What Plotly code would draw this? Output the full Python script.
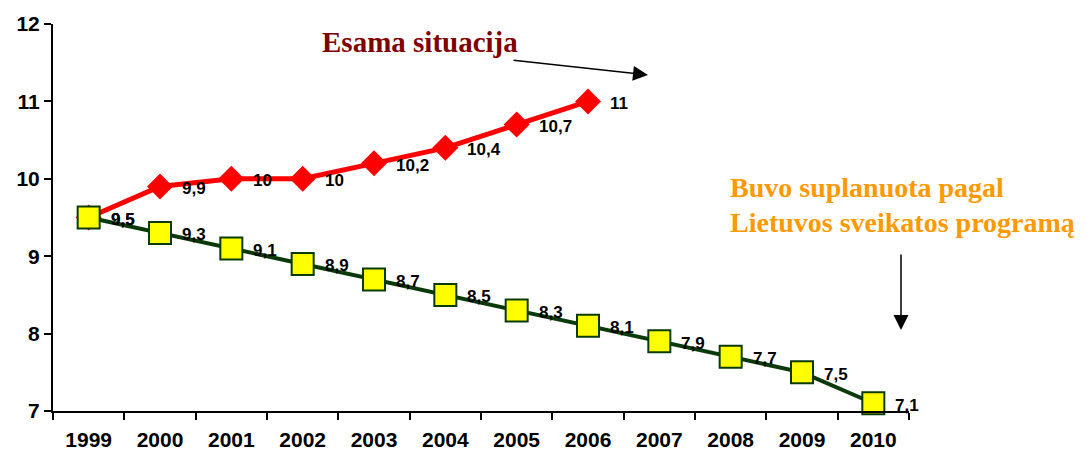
import plotly.graph_objects as go

years = ["1999", "2000", "2001", "2002", "2003", "2004", "2005", "2006", "2007", "2008", "2009", "2010"]
actual_years = ["1999", "2000", "2001", "2002", "2003", "2004", "2005", "2006"]
actual = [9.5, 9.9, 10, 10, 10.2, 10.4, 10.7, 11]
planned = [9.5, 9.3, 9.1, 8.9, 8.7, 8.5, 8.3, 8.1, 7.9, 7.7, 7.5, 7.1]
y_ticks = [7, 8, 9, 10, 11, 12]

def fmt(v):
    return ("%g" % v).replace(".", ",")

FONT = "Arial, Liberation Sans"
SERIF = "Liberation Serif, Times New Roman"

fig = go.Figure()
fig.add_trace(go.Scatter(
    x=actual_years, y=actual, mode="lines+markers",
    line=dict(color="#FF0000", width=5),
    marker=dict(symbol="diamond", size=20, color="#FF0000", line=dict(width=0)),
    cliponaxis=False, showlegend=False,
))
fig.add_trace(go.Scatter(
    x=years, y=planned, mode="lines+markers",
    line=dict(color="#0A3A0A", width=4),
    marker=dict(symbol="square", size=22, color="#FFFF00", line=dict(width=2, color="#0A3A0A")),
    cliponaxis=False, showlegend=False,
))

for xs, ys in ((actual_years, actual), (years, planned)):
    for xv, yv in zip(xs, ys):
        fig.add_annotation(
            x=years.index(xv), y=yv, xref="x", yref="y", text="<b>" + fmt(yv) + "</b>",
            showarrow=False, xanchor="left", yanchor="middle", xshift=20, yshift=-2,
            font=dict(family=FONT, size=17, color="black"),
        )

fig.update_layout(
    width=1083, height=450,
    margin=dict(l=45, r=182, t=16, b=47, autoexpand=False),
    plot_bgcolor="white", paper_bgcolor="white",
    font=dict(family=FONT, color="black"),
    xaxis=dict(
        type="category", range=[-0.5, 11.5], tickson="boundaries",
        ticks="outside", ticklen=7, tickwidth=2, tickcolor="black",
        showline=True, linewidth=2, linecolor="black", showgrid=False,
        tickfont=dict(size=21, family=FONT, color="black", weight="bold"),
        ticklabelstandoff=9,
    ),
    yaxis=dict(
        range=[7, 12], tickvals=y_ticks, ticktext=[str(v) for v in y_ticks],
        ticks="outside", ticklen=7, tickwidth=2, tickcolor="black",
        showline=True, linewidth=2, linecolor="black", showgrid=False, zeroline=False,
        tickfont=dict(size=21, family=FONT, color="black", weight="bold"),
    ),
)

fig.add_annotation(
    x=(320 - 53) / 856, y=(411 - 42) / 387, xref="paper", yref="paper",
    text="<b>Esama situacija</b>", showarrow=False, xanchor="left", yanchor="middle",
    font=dict(family=SERIF, size=29, color="#800000"),
)
fig.add_annotation(
    x=(648 - 53) / 856, y=(411 - 75) / 387, xref="paper", yref="paper",
    ax=-136, ay=-15, showarrow=True, arrowhead=2, arrowsize=2, arrowwidth=1.5,
    arrowcolor="black", text="",
)
fig.add_annotation(
    x=(728 - 53) / 856, y=(411 - 187) / 387, xref="paper", yref="paper",
    text="<b>Buvo suplanuota pagal</b>", showarrow=False, xanchor="left", yanchor="middle",
    font=dict(family=SERIF, size=28, color="#FF9900"),
)
fig.add_annotation(
    x=(728 - 53) / 856, y=(411 - 222) / 387, xref="paper", yref="paper",
    text="<b>Lietuvos sveikatos programą</b>", showarrow=False, xanchor="left", yanchor="middle",
    font=dict(family=SERIF, size=28, color="#FF9900"),
)
fig.add_annotation(
    x=(901 - 53) / 856, y=(411 - 330) / 387, xref="paper", yref="paper",
    ax=0, ay=-77, showarrow=True, arrowhead=2, arrowsize=2, arrowwidth=1.5,
    arrowcolor="black", text="",
)

fig.write_html("out.html")
